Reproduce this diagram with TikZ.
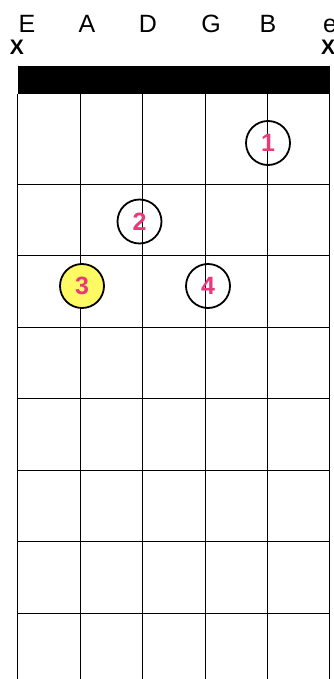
\documentclass[tikz,border=0pt]{standalone}
\usepackage{fontspec}
\setmainfont{Liberation Sans}
\definecolor{fingerpink}{RGB}{232,58,122}
\definecolor{rootyellow}{RGB}{255,250,100}
\begin{document}
\begin{tikzpicture}[x=1pt,y=-1pt,
  gridline/.style={line width=0.9pt,black},
  finger/.style={circle,draw=black,line width=1.8pt,minimum size=44pt,inner sep=0pt,
    font=\fontsize{25}{25}\selectfont\bfseries,text=fingerpink},
  stringname/.style={font=\fontsize{25}{25}\selectfont,anchor=base},
  mute/.style={font=\fontsize{21}{21}\selectfont\bfseries,anchor=base}]
\useasboundingbox (0,0) rectangle (334,679);
\fill[white] (0,0) rectangle (334,679);
% nut
\fill[black] (17.5,66) rectangle (330,94);
% strings
\foreach \x in {17.5,80,142.5,205,267.5,329.5}
  \draw[gridline] (\x,94) -- (\x,679);
% frets
\foreach \y in {184,255.5,327,398.5,470,541.5,613}
  \draw[gridline] (17.5,\y) -- (329.5,\y);
% string names
\node[stringname] (sE) at (27,32.5) {E};
\node[stringname] (sA) at (87,32.5) {A};
\node[stringname] (sD) at (148,32.5) {D};
\node[stringname] (sG) at (211,32.5) {G};
\node[stringname] (sB) at (268,32.5) {B};
\node[stringname] (se) at (330,32.5) {e};
% muted
\node[mute] (x1) at (17,55) {X};
\node[mute] (x6) at (328,55) {X};
% fingers
\node[finger] (f1) at (268,143) {1};
\node[finger] (f2) at (139.5,221.5) {2};
\node[finger,fill=rootyellow] (f3) at (82,286) {3};
\node[finger] (f4) at (208,286) {4};
\end{tikzpicture}
\end{document}
